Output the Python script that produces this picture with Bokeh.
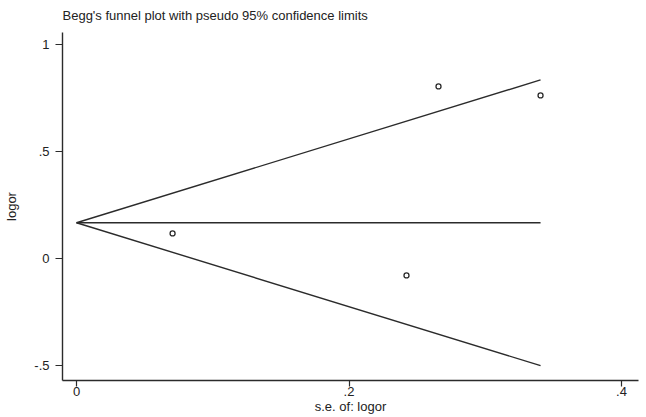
from bokeh.plotting import figure
from bokeh.models import Range1d, FixedTicker
from bokeh.embed import file_html
from bokeh.resources import INLINE

# data
se = [0.0705, 0.2422, 0.2657, 0.3406]
logor = [0.117, -0.079, 0.804, 0.762]
pooled = 0.167
z = 1.96

x_ticks = [0, 0.2, 0.4]
x_tick_labels = ["0", ".2", ".4"]
y_ticks = [-0.5, 0, 0.5, 1]
y_tick_labels = ["-.5", "0", ".5", "1"]
title_text = "Begg's funnel plot with pseudo 95% confidence limits"

se_max = max(se)
upper = [pooled, pooled + z * se_max]
lower = [pooled, pooled - z * se_max]
xs_line = [0, se_max]

FONT = "Liberation Sans"
INK = "#2b2b2b"

p = figure(width=646, height=417, output_backend="svg", toolbar_location=None,
           x_range=Range1d(-0.0103, 0.4125), y_range=Range1d(-0.57, 1.056),
           min_border_left=62, min_border_right=8, min_border_top=32, min_border_bottom=37,
           title=title_text)
p.outline_line_color = None
p.grid.visible = False
p.background_fill_color = "white"
p.border_fill_color = "white"

p.title.text_font = FONT
p.title.text_font_size = "13px"
p.title.text_font_style = "normal"
p.title.text_color = "#222222"
p.title.align = "left"
p.title.vertical_align = "top"
p.title.offset = 0
p.title.standoff = 15

p.line(xs_line, upper, line_color=INK, line_width=1.4)
p.line(xs_line, lower, line_color=INK, line_width=1.4)
p.line(xs_line, [pooled, pooled], line_color=INK, line_width=1.4)
p.scatter(se, logor, marker="circle", size=5, fill_color=None, line_color=INK, line_width=1.3)

for ax in (p.xaxis[0], p.yaxis[0]):
    ax.axis_line_color = INK
    ax.axis_line_width = 1.4
    ax.major_tick_line_color = INK
    ax.major_tick_line_width = 1.2
    ax.major_tick_out = 7
    ax.major_tick_in = 0
    ax.minor_tick_line_color = None
    ax.major_label_text_font = FONT
    ax.major_label_text_font_size = "13px"
    ax.major_label_text_color = "#222222"
    ax.axis_label_text_font = FONT
    ax.axis_label_text_font_size = "13px"
    ax.axis_label_text_font_style = "normal"
    ax.axis_label_text_color = "#222222"

p.xaxis.ticker = FixedTicker(ticks=x_ticks)
p.xaxis.major_label_overrides = dict(zip(x_ticks, x_tick_labels))
p.yaxis.ticker = FixedTicker(ticks=y_ticks)
p.yaxis.major_label_overrides = dict(zip(y_ticks, y_tick_labels))
p.xaxis.axis_label = "s.e. of: logor"
p.yaxis.axis_label = "logor"
p.xaxis.major_tick_out = 6
p.xaxis.major_label_standoff = 0
p.xaxis.axis_label_standoff = 0
p.yaxis.major_label_standoff = 6
p.yaxis.axis_label_standoff = 12
p.yaxis.major_label_orientation = "horizontal"

open("out.html", "w").write(file_html(p, INLINE))
